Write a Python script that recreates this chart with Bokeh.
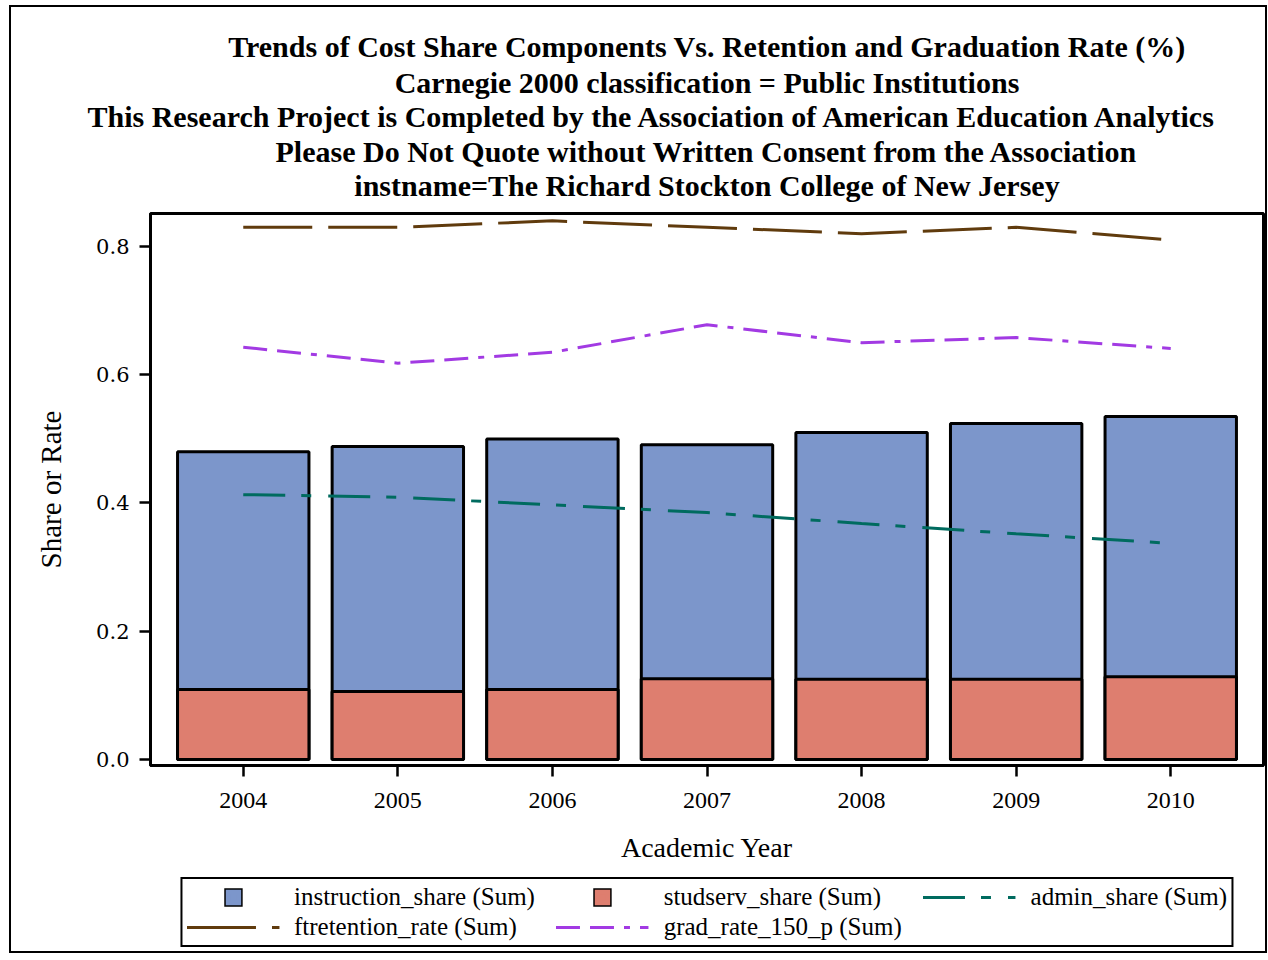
from bokeh.plotting import figure
from bokeh.layouts import column
from bokeh.models import (Range1d, FixedTicker, Title, Legend, LegendItem,
                          NumeralTickFormatter, ColumnDataSource)
from bokeh.embed import file_html
from bokeh.resources import INLINE

# ---- data ----
years = [2004, 2005, 2006, 2007, 2008, 2009, 2010]
instruction_share = [0.480, 0.488, 0.500, 0.491, 0.510, 0.524, 0.535]
studserv_share = [0.109, 0.106, 0.109, 0.126, 0.125, 0.125, 0.129]
admin_share = [0.413, 0.409, 0.397, 0.385, 0.368, 0.352, 0.337]
ftretention_rate = [0.830, 0.830, 0.840, 0.830, 0.820, 0.830, 0.810]
grad_rate_150_p = [0.643, 0.618, 0.635, 0.678, 0.650, 0.658, 0.641]
y_ticks = [0.0, 0.2, 0.4, 0.6, 0.8]

title_lines = [
    "Trends of Cost Share Components Vs. Retention and Graduation Rate (%)",
    "Carnegie 2000 classification = Public Institutions",
    "This Research Project is Completed by the Association of American Education Analytics",
    "Please Do Not Quote without Written Consent from the Association",
    "instname=The Richard Stockton College of New Jersey",
]

SERIF = "Liberation Serif"
NB = "\u00a0"
C_INSTR, C_STUD = "#7C96CB", "#DE7E6F"
C_ADMIN, C_RET, C_GRAD = "#006B5F", "#603B0D", "#A23AE3"
D_ADMIN, D_RET, D_GRAD = "42 16 10 17", "69 16", "24 10 24 10 6 10"

src = ColumnDataSource(dict(year=years, instr=instruction_share, stud=studserv_share,
                            admin=admin_share, ret=ftretention_rate, grad=grad_rate_150_p))

p = figure(frame_width=1113, frame_height=552, output_backend="svg", toolbar_location=None,
           x_range=Range1d(2003.4, 2010.6), y_range=Range1d(-0.0094, 0.8515),
           min_border_left=139, min_border_right=2, min_border_top=206,
           min_border_bottom=110)
p.title.visible = False

# titles (added bottom line first; later ones stack above)
standoffs = [30, -28, 26, -26, 24]
for i, txt in reversed(list(enumerate(title_lines))):
    if i == 2:
        t = Title(text=txt, align="left", offset=-63)
    else:
        t = Title(text=txt, align="center")
    t.text_font = SERIF
    t.text_font_size = "30px"
    t.text_font_style = "bold"
    t.text_color = "black"
    t.standoff = standoffs[i]
    p.add_layout(t, "above")

# bars
p.vbar(x="year", top="instr", bottom=0, width=0.85, source=src,
       fill_color=C_INSTR, line_color="black", line_width=3)
p.vbar(x="year", top="stud", bottom=0, width=0.85, source=src,
       fill_color=C_STUD, line_color="black", line_width=3)

# lines
p.line(x="year", y="admin", source=src, line_color=C_ADMIN, line_width=3, line_dash=D_ADMIN)
p.line(x="year", y="ret", source=src, line_color=C_RET, line_width=3, line_dash=D_RET)
p.line(x="year", y="grad", source=src, line_color=C_GRAD, line_width=3, line_dash=D_GRAD)

# axes
p.xgrid.visible = False
p.ygrid.visible = False
p.outline_line_color = "black"
p.outline_line_width = 3

xa = p.xaxis[0]
xa.ticker = FixedTicker(ticks=years)
xa.major_label_overrides = {y: str(y) for y in years}
xa.axis_label = "Academic Year"
ya = p.yaxis[0]
ya.ticker = FixedTicker(ticks=y_ticks)
ya.formatter = NumeralTickFormatter(format="0.0")
ya.axis_label = "Share or Rate"

for ax in (xa, ya):
    ax.axis_line_color = "black"
    ax.axis_line_width = 3
    ax.major_tick_line_width = 2.5
    ax.major_tick_line_color = "black"
    ax.major_tick_in = 0
    ax.major_tick_out = 11
    ax.minor_tick_line_color = None
    ax.axis_label_text_font = SERIF
    ax.axis_label_text_font_size = "28px"
    ax.axis_label_text_font_style = "normal"
    ax.axis_label_text_color = "black"
    ax.major_label_text_color = "black"
xa.major_label_text_font = SERIF
xa.major_label_text_font_size = "24px"
xa.major_label_standoff = 16
xa.axis_label_standoff = 21
ya.major_label_text_font = "DejaVu Serif"
ya.major_label_text_font_size = "21px"
ya.major_label_standoff = 10
ya.axis_label_standoff = 26
ya.axis_label_text_font_size = "29px"

# ---- legend strip (separate plot directly under the chart) ----
q = figure(frame_width=1113, frame_height=76, output_backend="svg", toolbar_location=None,
           x_range=Range1d(0, 1), y_range=Range1d(0, 1),
           x_axis_location=None, y_axis_location=None,
           min_border_left=139, min_border_right=2, min_border_top=0,
           min_border_bottom=0)
q.title.visible = False
q.xgrid.visible = False
q.ygrid.visible = False
q.outline_line_color = None

nan = float("nan")


def square_swatch(color):
    # black square under a slightly smaller coloured square -> outlined swatch
    under = q.scatter(x=[nan], y=[nan], marker="square", fill_color="black",
                      line_color="black", line_width=8, line_join="miter")
    over = q.scatter(x=[nan], y=[nan], marker="square", fill_color=color,
                     line_color=color, line_width=5, line_join="miter")
    return [under, over]


lg_instr = square_swatch(C_INSTR)
lg_stud = square_swatch(C_STUD)
lg_admin = q.line(x=[nan, nan], y=[nan, nan], line_color=C_ADMIN, line_width=3, line_dash=D_ADMIN)
lg_ret = q.line(x=[nan, nan], y=[nan, nan], line_color=C_RET, line_width=3, line_dash=D_RET)
lg_grad = q.line(x=[nan, nan], y=[nan, nan], line_color=C_GRAD, line_width=3, line_dash=D_GRAD)

legend = Legend(items=[
    LegendItem(label="instruction_share (Sum)" + NB * 3, renderers=lg_instr),
    LegendItem(label="studserv_share (Sum)", renderers=lg_stud),
    LegendItem(label="admin_share (Sum)", renderers=[lg_admin]),
    LegendItem(label="ftretention_rate (Sum)", renderers=[lg_ret]),
    LegendItem(label="grad_rate_150_p (Sum)" + NB * 3, renderers=[lg_grad]),
], orientation="horizontal", ncols=3, location="top_center")
legend.label_text_font = SERIF
legend.label_text_font_size = "25px"
legend.label_text_color = "black"
legend.glyph_width = 93
legend.glyph_height = 26
legend.label_standoff = 15
legend.spacing = 2
legend.padding = 4
legend.margin = 2
legend.border_line_color = "black"
legend.border_line_alpha = 1.0
legend.border_line_width = 2.5
legend.background_fill_alpha = 0
q.add_layout(legend, "center")

layout = column(p, q, spacing=0,
                styles={"border": "2px solid black", "margin-left": "9px",
                        "margin-top": "5px"})

open("out.html", "w").write(file_html(layout, INLINE))
